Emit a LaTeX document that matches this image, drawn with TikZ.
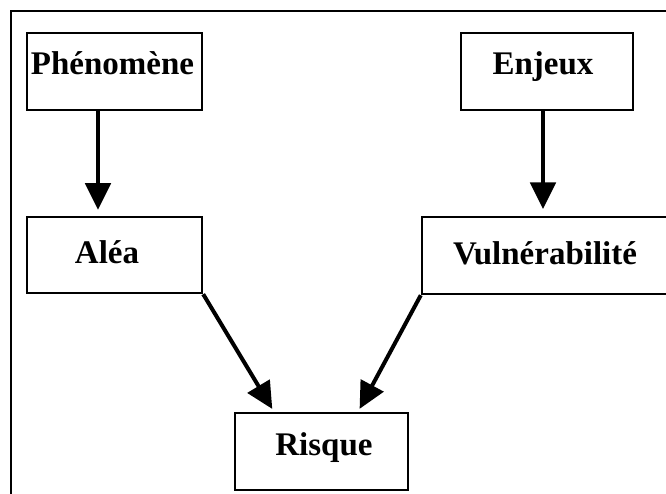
\documentclass[tikz,border=0pt]{standalone}
\usepackage{fontspec}
\setmainfont{Liberation Serif}
\usetikzlibrary{arrows.meta}
\tikzset{
  boxsz/.style 2 args={draw=black, line width=1.8pt, minimum width={#1*0.75pt}, minimum height={#2*0.75pt}, inner sep=0pt},
  lbl/.style={anchor=base, inner sep=0pt, font=\fontsize{24.75}{30}\selectfont\bfseries},
  arr/.style={line width=3pt, -{Triangle[length=20pt, width=19pt]}},
  frame/.style={line width=1.9pt}
}
\begin{document}
\begin{tikzpicture}[x=0.75pt, y=-0.75pt]
\useasboundingbox (0,0) rectangle (666,493);
\clip (0,0) rectangle (666,493);
\draw[frame] (11,520) -- (11,11) -- (700,11);
% boxes
\node[boxsz={175}{77}] (phen) at (114.5,71.5) {};
\node[boxsz={172}{77}] (enj) at (547,71.5) {};
\node[boxsz={175}{76}] (alea) at (114.5,255) {};
\node[boxsz={250}{77}] (vul) at (547,255.5) {};
\node[boxsz={173}{77}] (risk) at (321.5,451.5) {};
% labels
\node[lbl] (tphen) at (112.5,74) {Phénomène};
\node[lbl] (tenj) at (543,74) {Enjeux};
\node[lbl] (talea) at (107,263) {Aléa};
\node[lbl] (tvul) at (545,264) {Vulnérabilité};
\node[lbl] (trisk) at (324,455) {Risque};
% connectors
\coordinate (c1) at (98,0);
\coordinate (c2) at (543,0);
\coordinate (c3) at (274,0);
\coordinate (c4) at (358,0);
\draw[arr, shorten >=4.5pt] (phen.south -| c1) -- (alea.north -| c1);
\draw[arr, shorten >=5pt] (enj.south -| c2) -- (vul.north -| c2);
\draw[arr, shorten >=2.5pt] (alea.south east) -- (risk.north -| c3);
\draw[arr, shorten >=2.5pt] (vul.south west) -- (risk.north -| c4);
\end{tikzpicture}
\end{document}
